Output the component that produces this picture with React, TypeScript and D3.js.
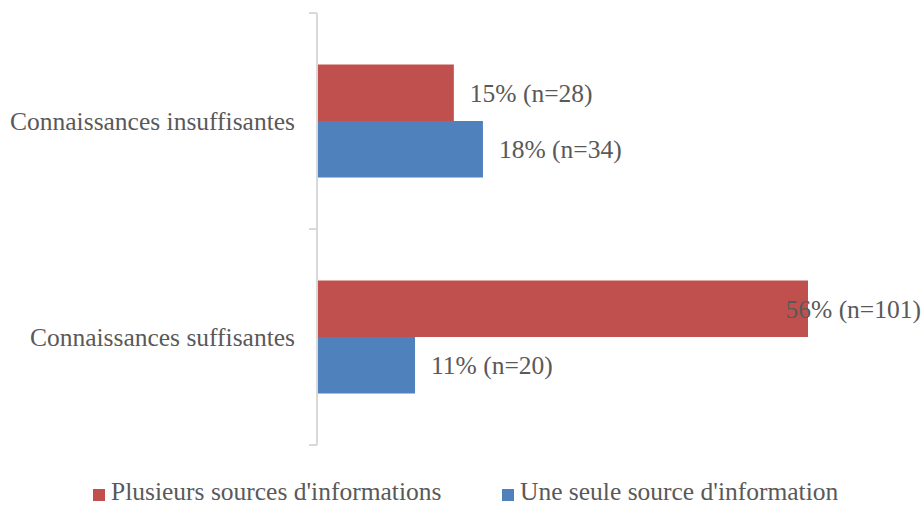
import React from "react";
import * as d3 from "d3";

const categories = ["Connaissances insuffisantes", "Connaissances suffisantes"];
const seriesNames = ["Plusieurs sources d'informations", "Une seule source d'information"];
const plusieursCounts = [28, 101];
const plusieursPct = [15, 56];
const seuleCounts = [34, 20];
const seulePct = [18, 11];
const colors = ["#C0504D", "#4F81BD"];

const W = 924;
const H = 506;
const FONT = "'Liberation Serif', 'Times New Roman', serif";
const TEXT = "#595959";

export default function App() {
  const y = d3.scaleBand<string>().domain(categories).range([13, 445]).padding(0);
  const inner = d3
    .scaleBand<string>()
    .domain(seriesNames)
    .range([51.5, y.bandwidth() - 51.5])
    .padding(0);
  const x = d3.scaleLinear().domain([0, 101]).range([318, 808]);

  const series = [
    { name: seriesNames[0], counts: plusieursCounts, pct: plusieursPct, color: colors[0] },
    { name: seriesNames[1], counts: seuleCounts, pct: seulePct, color: colors[1] },
  ];

  const fs = 25.5;
  const axisX = 317;
  const ticks = [13, ...categories.map((c) => (y(c) as number) + y.bandwidth())];

  return (
    <div style={{ position: "absolute", left: 0, top: 0 }}>
      <svg width={W} height={H} style={{ display: "block", background: "#fff" }}>
        {/* bars */}
        {series.map((s) =>
          categories.map((c, i) => {
            const y0 = (y(c) as number) + (inner(s.name) as number);
            return (
              <rect
                key={s.name + c}
                x={x(0)}
                y={y0}
                width={x(s.counts[i]) - x(0)}
                height={inner.bandwidth()}
                fill={s.color}
              />
            );
          })
        )}
        {/* axis */}
        <line x1={axisX} x2={axisX} y1={y.range()[0]} y2={y.range()[1]} stroke="#D9D9D9" strokeWidth={2} />
        {ticks.map((t, i) => (
          <line key={i} x1={309} x2={axisX} y1={t} y2={t} stroke="#D9D9D9" strokeWidth={2} />
        ))}
        {/* category labels */}
        {categories.map((c) => (
          <text
            key={c}
            x={295}
            y={(y(c) as number) + y.bandwidth() / 2}
            dy="0.35em"
            textAnchor="end"
            fontFamily={FONT}
            fontSize={fs}
            fill={TEXT}
          >
            {c}
          </text>
        ))}
        {/* value labels */}
        {series.map((s) =>
          categories.map((c, i) => {
            const label = `${s.pct[i]}% (n=${s.counts[i]})`;
            const cy = (y(c) as number) + (inner(s.name) as number) + inner.bandwidth() / 2;
            const est = label.length * fs * 0.5;
            let lx = x(s.counts[i]) + 16;
            let anchor: "start" | "end" = "start";
            if (lx + est > W - 2) {
              lx = W - 3;
              anchor = "end";
            }
            return (
              <text
                key={"l" + s.name + c}
                x={lx}
                y={cy}
                dy="0.35em"
                textAnchor={anchor}
                fontFamily={FONT}
                fontSize={fs}
                fill={TEXT}
              >
                {label}
              </text>
            );
          })
        )}
        {/* legend */}
        {series.map((s, i) => {
          const lx = i === 0 ? 93 : 502;
          return (
            <g key={"lg" + i}>
              <rect x={lx} y={489} width={12} height={12} fill={s.color} />
              <text x={lx + 18} y={500} fontFamily={FONT} fontSize={fs} fill={TEXT}>
                {s.name}
              </text>
            </g>
          );
        })}
      </svg>
    </div>
  );
}
